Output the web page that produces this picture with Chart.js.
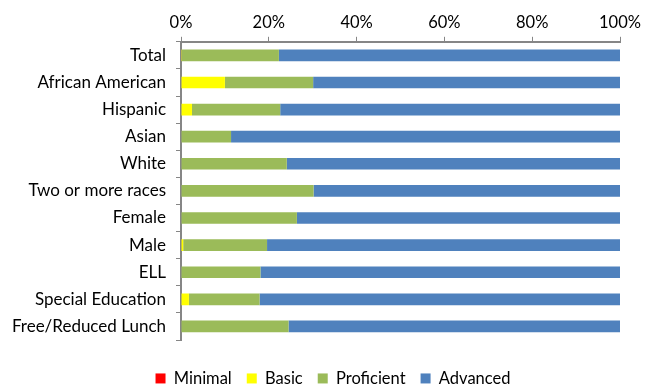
<!DOCTYPE html>
<html><head><meta charset="utf-8">
<script src="https://cdn.jsdelivr.net/npm/chart.js@4"></script>
<style>html,body{margin:0;padding:0;background:#fff}#wrap{width:652px;height:387px}</style>
</head><body><div id="wrap"><canvas id="c" width="652" height="387"></canvas></div>
<script>
const categories = ["Total","African American","Hispanic","Asian","White","Two or more races","Female","Male","ELL","Special Education","Free/Reduced Lunch"];
const minimal    = [0,0,0,0,0,0,0,0,0,0,0];
const basic      = [0.2,10.0,2.5,0,0,0,0,0.5,0,1.8,0];
const proficient = [22.1,20.1,20.1,11.4,24.1,30.2,26.4,19.1,18.1,16.1,24.5];
const advanced   = [77.7,69.9,77.4,88.6,75.9,69.8,73.6,80.4,81.9,82.1,75.5];
const xTicks = [0,20,40,60,80,100];

const font = "Lato, 'Open Sans', sans-serif";
Chart.defaults.font.family = font;
Chart.defaults.color = '#000';
const FS = 16.5;
const mk = (label, data, color) => ({label, data, backgroundColor: color, borderWidth: 0, barPercentage: 0.43, categoryPercentage: 1});
const legendFitPlugin = {
  id: 'legendFit',
  beforeLayout(chart) {
    const lg = chart.legend;
    if (lg && !lg._wrapped) {
      const orig = lg.fit.bind(lg);
      lg.fit = function() { orig(); this.height = 47; };
      lg._wrapped = true;
    }
  },
  afterLayout(chart) {
    const lg = chart.legend;
    if (lg) { lg.left += 23; lg.right += 23; }
  }
};
new Chart(document.getElementById('c'), {
  type: 'bar',
  data: { labels: categories, datasets: [
    mk('Minimal', minimal, '#FF0000'),
    mk('Basic', basic, '#FFFF00'),
    mk('Proficient', proficient, '#9BBB59'),
    mk('Advanced', advanced, '#4F81BD')
  ]},
  plugins: [legendFitPlugin],
  options: {
    indexAxis: 'y', responsive: false, animation: false,
    layout: { padding: { left: 0, right: 32, top: 9, bottom: 0 } },
    plugins: {
      tooltip: { enabled: false },
      legend: { position: 'bottom',
        title: { display: true, text: '', font: { size: 1 }, padding: { top: 14, bottom: 0 } },
        labels: { boxWidth: 10, boxHeight: 10, padding: 15, font: { size: FS }, color: '#000' } }
    },
    scales: {
      x: { position: 'top', stacked: true, min: 0, max: 100,
        afterBuildTicks: s => { s.ticks = xTicks.map(v => ({value: v})); },
        ticks: { callback: v => v + '%', font: { size: FS }, padding: 4, color: '#000', maxRotation: 0 },
        grid: { drawOnChartArea: false, drawTicks: true, tickLength: 5, color: '#868686', lineWidth: 1 },
        border: { color: '#868686', width: 2 } },
      y: { stacked: true,
        afterFit: s => { s.width = 181; },
        ticks: { font: { size: 17 }, padding: 10, color: '#000' },
        grid: { drawOnChartArea: false, drawTicks: true, tickLength: 5, color: '#868686', offset: true },
        border: { color: '#868686', width: 2 } }
    }
  }
});
</script></body></html>
